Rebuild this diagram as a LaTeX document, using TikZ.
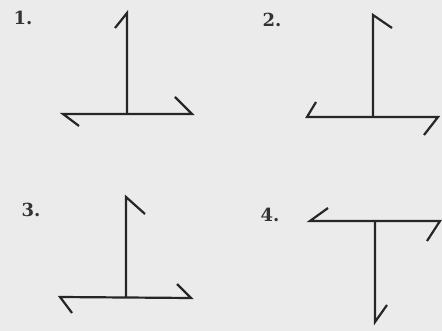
\documentclass[tikz,border=0pt]{standalone}
\usepackage{fontspec}
\newfontfamily\labelfont{DejaVu Serif}
\usepackage{tikz}
\usetikzlibrary{positioning}

\begin{document}
\begin{tikzpicture}[x=1pt,y=-1pt,
    fig/.style={line width=2.2pt,draw=black!85,line join=miter},
    lbl/.style={font=\labelfont\fontsize{18}{20}\selectfont\bfseries,text=black!80}]
    \fill[black!8] (0,0) rectangle (442,331);
    \useasboundingbox (0,0) rectangle (442,331);
    % 1
    \node[lbl] (n1) at (23,18) {1.};
    \draw[fig] (115,28) -- (127,13) -- (127,114);
    \draw[fig] (79,126) -- (63,114) -- (192,114) -- (175,97);
    % 2
    \node[lbl] (n2) at (272,20) {2.};
    \draw[fig] (392,28) -- (373,15) -- (373,117);
    \draw[fig] (316,102) -- (307,117) -- (438,117) -- (424,135);
    % 3
    \node[lbl] (n3) at (31,210) {3.};
    \draw[fig] (145,214) -- (126,197) -- (126,298);
    \draw[fig] (72,313) -- (60,297) -- (191,298) -- (177,284);
    % 4
    \node[lbl] (n4) at (270,215) {4.};
    \draw[fig] (328,208) -- (310,221) -- (440,221) -- (427,241);
    \draw[fig] (375,221) -- (375,322) -- (387,305);
\end{tikzpicture}
\end{document}
